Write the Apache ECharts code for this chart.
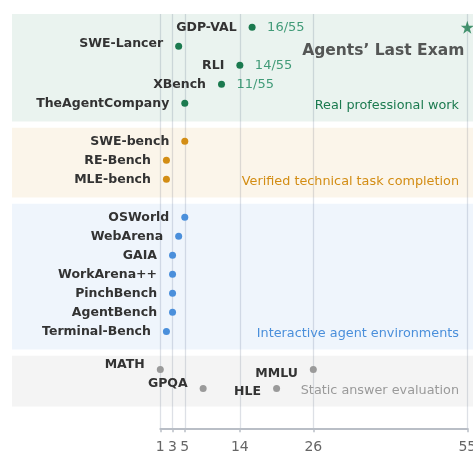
<!DOCTYPE html>
<html>
<head>
<meta charset="utf-8">
<script src="https://cdn.jsdelivr.net/npm/echarts@6/dist/echarts.min.js"></script>
<style>
  html, body { margin: 0; padding: 0; background: #fff; }
  #chart { width: 473px; height: 455px; }
</style>
</head>
<body>
<div id="chart"></div>
<script>
// benchmarks, top to bottom
const names = ['GDP-VAL', 'SWE-Lancer', 'RLI', 'XBench', 'TheAgentCompany',
  'SWE-bench', 'RE-Bench', 'MLE-bench',
  'OSWorld', 'WebArena', 'GAIA', 'WorkArena++', 'PinchBench', 'AgentBench', 'Terminal-Bench',
  'MATH', 'GPQA', 'HLE', 'MMLU'];
const scores = [16, 4, 14, 11, 5, 5, 2, 2, 5, 4, 3, 3, 3, 3, 2, 1, 8, 20, 26];
const rows = [0, 1, 2, 3, 4, 6, 7, 8, 10, 11, 12, 13, 14, 15, 16, 18, 19, 19, 18];
const groupOf = [0, 0, 0, 0, 0, 1, 1, 1, 2, 2, 2, 2, 2, 2, 2, 3, 3, 3, 3];
const groupLabels = ['Real professional work', 'Verified technical task completion',
  'Interactive agent environments', 'Static answer evaluation'];
const scoreShown = ['GDP-VAL', 'RLI', 'XBench'];
const total = 55;
const alxName = 'Agents\u2019 Last Exam';
const alxScore = 55;
const alxRow = 0;
const xTicks = [1, 3, 5, 14, 26, 55];

const groupColors = ['#1b7a4f', '#d38d14', '#4a8fdb', '#9a9a9a'];
const bandColors = ['rgba(27,122,79,0.09)', 'rgba(211,141,20,0.09)', 'rgba(74,143,219,0.09)', 'rgba(154,154,154,0.11)'];

// axis is compressed above 26
function xm(v) { return v <= 26 ? v : 26 + (v - 26) * 0.8676; }

const labelNudge = { 'SWE-Lancer': [0, -3], 'MATH': [0, -4.5], 'GPQA': [0, -5], 'HLE': [0, 3.5], 'MMLU': [0, 4.5] };

const font = 'DejaVu Sans';
const series = [];

groupLabels.forEach((gl, g) => {
  const idx = names.map((n, i) => i).filter(i => groupOf[i] === g);
  const rs = idx.map(i => rows[i]);
  const first = Math.min(...rs), last = Math.max(...rs);
  series.push({
    type: 'scatter',
    clip: false,
    symbolSize: 7,
    itemStyle: { color: groupColors[g], opacity: 1 },
    data: idx.map(i => ({
      name: names[i],
      value: [xm(scores[i]), rows[i]],
      label: { offset: labelNudge[names[i]] || [0, 0] }
    })),
    label: {
      show: true, position: 'left', distance: 12,
      formatter: '{b}', fontFamily: font, fontWeight: 'bold', fontSize: 12.5, color: '#333'
    },
    markArea: {
      silent: true,
      itemStyle: { color: bandColors[g] },
      label: {
        show: true, position: 'insideBottomRight', distance: 9, offset: [-5, 0],
        color: groupColors[g], fontFamily: font, fontSize: 12.8
      },
      data: [[
        { name: gl, xAxis: 1, x: 12, yAxis: first - 0.72 },
        { xAxis: xm(55), x: 473, yAxis: last + 0.95 }
      ]]
    }
  });
});

// score labels on the right
series.push({
  type: 'scatter',
  clip: false,
  symbolSize: 0,
  silent: true,
  data: names.map((n, i) => i).filter(i => scoreShown.includes(names[i])).map(i => ({
    name: scores[i] + '/' + total,
    value: [xm(scores[i]), rows[i]]
  })),
  label: {
    show: true, position: 'right', distance: 15, formatter: '{b}',
    fontFamily: font, fontSize: 13, color: '#17845a'
  }
});

// the star
series.push({
  type: 'scatter',
  clip: false,
  symbol: 'path://M50,0 L61.8,35.3 L99,35.3 L69,57.1 L80.4,92.4 L50,70.6 L19.6,92.4 L31,57.1 L1,35.3 L38.2,35.3 Z',
  symbolSize: 13,
  itemStyle: { color: '#1b7a4f' },
  data: [{ name: alxName, value: [xm(alxScore), alxRow] }],
  label: {
    show: true, position: 'bottom', distance: 9, align: 'right', offset: [-3, 0],
    formatter: '{b}', fontFamily: font, fontWeight: 'bold', fontSize: 15.5, color: '#2e2e2e'
  }
});

const chart = echarts.init(document.getElementById('chart'));
chart.setOption({
  animation: false,
  grid: { left: 160.3, right: 5.7, top: 14, bottom: 26.7, containLabel: false, outerBoundsMode: 'none' },
  xAxis: {
    type: 'value',
    min: 1,
    max: xm(55),
    axisLine: { show: true, onZero: false, lineStyle: { color: '#b9bec6', width: 2 } },
    axisTick: { show: true, length: 4, customValues: xTicks.map(xm), lineStyle: { color: '#b9bec6', width: 1.5 } },
    axisLabel: {
      customValues: xTicks.map(xm),
      margin: 12, fontFamily: font, fontSize: 14, color: '#666',
      formatter: v => {
        const t = xTicks.find(t => Math.abs(xm(t) - v) < 1e-6);
        return t === undefined ? '' : String(t);
      }
    },
    splitLine: { show: true, lineStyle: { color: '#dde0e6', width: 1.3 } }
  },
  yAxis: {
    type: 'value',
    inverse: true,
    min: -0.7,
    max: 21.1,
    show: false
  },
  series: series
});
</script>
</body>
</html>
